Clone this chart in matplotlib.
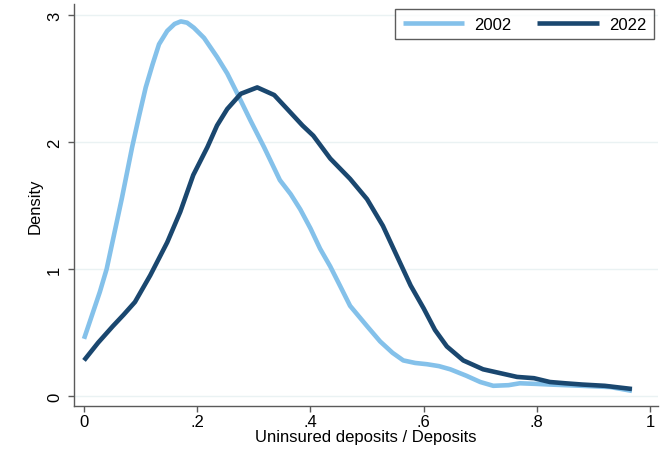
import matplotlib
matplotlib.use("Agg")
import matplotlib.pyplot as plt

## kernel density estimates, uninsured share of deposits
share_2002 = [0.0, 0.028, 0.04, 0.067, 0.085, 0.097, 0.109, 0.121, 0.1325, 0.147,
	0.16, 0.171, 0.182, 0.194, 0.212, 0.235, 0.253, 0.271, 0.294, 0.318,
	0.346, 0.365, 0.382, 0.4, 0.417, 0.435, 0.452, 0.47, 0.5, 0.523,
	0.545, 0.564, 0.585, 0.606, 0.627, 0.647, 0.675, 0.7, 0.723, 0.75,
	0.77, 0.8, 0.823, 0.88, 0.93, 0.968]
density_2002 = [0.45, 0.82, 1.0, 1.56, 1.96, 2.20, 2.43, 2.61, 2.77, 2.875,
	2.93, 2.95, 2.94, 2.90, 2.82, 2.67, 2.54, 2.38, 2.17, 1.96,
	1.70, 1.59, 1.47, 1.32, 1.16, 1.02, 0.87, 0.71, 0.55, 0.43,
	0.34, 0.28, 0.26, 0.25, 0.235, 0.21, 0.16, 0.11, 0.08, 0.085,
	0.10, 0.095, 0.09, 0.08, 0.07, 0.04]

share_2022 = [0.0, 0.025, 0.051, 0.07, 0.09, 0.117, 0.147, 0.17, 0.193, 0.218,
	0.235, 0.253, 0.277, 0.306, 0.336, 0.359, 0.386, 0.405, 0.435, 0.47,
	0.5, 0.528, 0.553, 0.577, 0.6, 0.62, 0.641, 0.67, 0.705, 0.735,
	0.765, 0.795, 0.823, 0.85, 0.88, 0.92, 0.968]
density_2022 = [0.28, 0.42, 0.55, 0.64, 0.74, 0.95, 1.21, 1.45, 1.74, 1.96,
	2.13, 2.26, 2.38, 2.43, 2.37, 2.26, 2.13, 2.05, 1.87, 1.71,
	1.55, 1.34, 1.1, 0.87, 0.69, 0.52, 0.39, 0.28, 0.21, 0.18,
	0.15, 0.14, 0.11, 0.10, 0.09, 0.08, 0.055]

x_ticks = [0, 0.2, 0.4, 0.6, 0.8, 1.0]
x_tick_labels = ["0", ".2", ".4", ".6", ".8", "1"]
y_ticks = [0, 1, 2, 3]

plt.rcParams["font.family"] = ["Liberation Sans", "DejaVu Sans"]

fig = plt.figure(figsize=(6.67, 4.52), dpi=100)
## axes box: left spine at 74 px, bottom spine at 407 px
ax = fig.add_axes([74 / 667, 1 - 407 / 452, 584 / 667, 402 / 452])

ax.plot(share_2002, density_2002, color="#84c1ea", linewidth=3.3,
	solid_capstyle="butt", solid_joinstyle="round", label="2002", zorder=3)
ax.plot(share_2022, density_2022, color="#1a476f", linewidth=3.3,
	solid_capstyle="butt", solid_joinstyle="round", label="2022", zorder=3)

ax.set_xlim(-0.0177, 1.014)
ax.set_ylim(-0.079, 3.087)
ax.set_xticks(x_ticks)
ax.set_xticklabels(x_tick_labels)
ax.set_yticks(y_ticks)
ax.set_yticklabels([str(t) for t in y_ticks])

ax.grid(axis="y", color="#eaf2f3", linewidth=1.0, zorder=0)
ax.spines["top"].set_visible(False)
ax.spines["right"].set_visible(False)
for side in ("left", "bottom"):
	ax.spines[side].set_color("#5a5a5a")
	ax.spines[side].set_linewidth(1.0)
ax.tick_params(axis="x", direction="out", length=4.5, width=1.0,
	color="#5a5a5a", labelsize=12, labelcolor="black", pad=1.5)
ax.tick_params(axis="y", direction="out", length=4.5, width=1.0,
	color="#5a5a5a", labelsize=12, labelcolor="black", pad=9.5)
for lab in ax.get_yticklabels():
	lab.set_rotation(90)
	lab.set_horizontalalignment("center")
	lab.set_verticalalignment("center")

ax.set_xlabel("Uninsured deposits / Deposits", fontsize=12, labelpad=0)
ax.set_ylabel("Density", fontsize=12, va="center", ha="center")
ax.yaxis.set_label_coords((35 - 74) / 584, 0.5)

leg = ax.legend(loc="upper right", bbox_to_anchor=(654 / 667, 1 - 10 / 452),
	bbox_transform=fig.transFigure, ncol=2, frameon=True, fancybox=False,
	fontsize=12, handlelength=3.7, columnspacing=1.55, handletextpad=0.6,
	borderpad=0.45, borderaxespad=0)
leg.get_frame().set_edgecolor("#333333")
leg.get_frame().set_linewidth(1.0)

fig.savefig("out.png", dpi=100)
plt.close(fig)
